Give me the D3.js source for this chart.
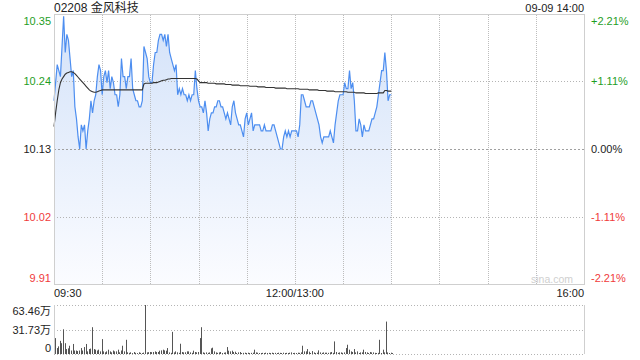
<!DOCTYPE html>
<html>
<head>
<meta charset="utf-8">
<script src="https://cdn.jsdelivr.net/npm/d3@7"></script>
<style>
  body { margin: 0; background: #fff; }
  svg { display: block; font-family: "Liberation Sans", Arial, "Noto Sans CJK SC", sans-serif; }
</style>
</head>
<body>
<svg id="chart" width="640" height="360"></svg>
<script>
// ---- data ----
const title = "02208 金风科技";
const stamp = "09-09 14:00";
const prevClose = 10.13;
const priceLabels = ["10.35", "10.24", "10.13", "10.02", "9.91"];
const pctTicks = [2.21, 1.11, 0, -1.11, -2.21];
const pctLabels = ["+2.21%", "+1.11%", "0.00%", "-1.11%", "-2.21%"];
const timeTicks = [0, 150, 330];            // minutes of trading since 09:30
const timeLabels = ["09:30", "12:00/13:00", "16:00"];
const gridMinutes = [30, 60, 90, 120, 150, 180, 210, 240, 270, 300];
const volTicks = [63.46, 31.73, 0];          // 万
const volLabels = ["63.46万", "31.73万", "0"];

// one value per trading minute, 09:30 .. 14:00
const price = [
  10.21,10.24,10.27,10.26,10.25,10.30,10.35,10.29,10.32,10.31,
  10.28,10.25,10.26,10.20,10.18,10.15,10.13,10.17,10.16,10.17,
  10.13,10.16,10.18,10.21,10.19,10.21,10.22,10.25,10.27,10.26,
  10.22,10.25,10.26,10.24,10.26,10.23,10.25,10.24,10.22,10.22,
  10.20,10.22,10.28,10.25,10.25,10.23,10.25,10.25,10.28,10.23,
  10.22,10.21,10.21,10.20,10.20,10.21,10.30,10.29,10.28,10.25,
  10.24,10.24,10.27,10.29,10.29,10.31,10.32,10.32,10.31,10.32,
  10.30,10.32,10.29,10.28,10.27,10.26,10.27,10.22,10.23,10.22,
  10.23,10.22,10.22,10.21,10.22,10.21,10.22,10.22,10.26,10.23,
  10.21,10.20,10.20,10.19,10.21,10.19,10.16,10.18,10.19,10.19,
  10.20,10.20,10.21,10.21,10.20,10.20,10.19,10.18,10.19,10.18,
  10.17,10.20,10.21,10.19,10.18,10.17,10.17,10.16,10.15,10.18,
  10.19,10.17,10.18,10.19,10.16,10.17,10.17,10.17,10.17,10.16,
  10.16,10.17,10.16,10.16,10.16,10.16,10.17,10.17,10.16,10.15,
  10.14,10.13,10.13,10.15,10.16,10.15,10.16,10.15,10.16,10.16,
  10.16,10.16,10.15,10.17,10.22,10.22,10.21,10.20,10.20,10.20,
  10.21,10.21,10.20,10.19,10.18,10.17,10.15,10.14,10.15,10.15,
  10.15,10.15,10.16,10.15,10.14,10.17,10.19,10.21,10.22,10.22,
  10.22,10.24,10.23,10.23,10.26,10.23,10.24,10.21,10.16,10.16,
  10.18,10.17,10.15,10.17,10.16,10.16,10.16,10.17,10.18,10.18,
  10.19,10.20,10.22,10.24,10.26,10.26,10.29,10.26,10.21,10.22,10.22
];

const avgPrice = [
  10.167,10.190,10.210,10.228,10.240,10.246,10.250,10.254,10.256,10.257,
  10.258,10.258,10.257,10.255,10.252,10.249,10.246,10.243,10.240,10.237,
  10.234,10.231,10.228,10.226,10.225,10.224,10.224,10.225,10.226,10.227,
  10.228,10.228,10.228,10.228,10.228,10.228,10.228,10.228,10.228,10.228,
  10.228,10.228,10.228,10.228,10.228,10.228,10.228,10.228,10.228,10.228,
  10.228,10.228,10.228,10.228,10.228,10.228,10.238,10.239,10.239,10.239,
  10.239,10.239,10.240,10.240,10.240,10.241,10.242,10.243,10.244,10.244,
  10.245,10.246,10.246,10.247,10.247,10.247,10.247,10.247,10.247,10.247,
  10.247,10.247,10.247,10.247,10.247,10.247,10.247,10.247,10.247,10.246,
  10.243,10.240,10.240,10.240,10.240,10.240,10.239,10.239,10.239,10.239,
  10.239,10.238,10.238,10.238,10.238,10.238,10.238,10.237,10.237,10.237,
  10.237,10.236,10.236,10.236,10.236,10.236,10.235,10.235,10.235,10.235,
  10.235,10.235,10.234,10.234,10.234,10.234,10.234,10.233,10.233,10.233,
  10.233,10.233,10.232,10.232,10.232,10.232,10.232,10.232,10.231,10.231,
  10.231,10.231,10.231,10.231,10.231,10.230,10.230,10.230,10.230,10.230,
  10.230,10.230,10.230,10.229,10.229,10.229,10.229,10.229,10.229,10.228,
  10.228,10.228,10.228,10.228,10.228,10.227,10.227,10.227,10.227,10.227,
  10.226,10.226,10.226,10.226,10.226,10.225,10.225,10.225,10.225,10.225,
  10.225,10.225,10.225,10.224,10.224,10.224,10.224,10.224,10.223,10.223,
  10.223,10.223,10.223,10.223,10.222,10.222,10.222,10.222,10.222,10.222,
  10.222,10.222,10.223,10.223,10.223,10.223,10.227,10.227,10.226,10.226,10.226
];

// 万 shares per minute
const volume = [
  20.6,7.7,9.9,17,14,32,14,6.4,7.3,10.7,
  4.5,13,4.5,4.5,3.8,4.5,7.7,4.5,9,13,
  3.4,6.4,7,34.7,6.4,5.6,4.5,5.6,3.4,19.3,
  3.4,2.2,3.4,5.6,3.4,2.2,4.5,3.4,3.4,5.6,
  2.2,4.5,10.7,3.4,18.4,2.2,1.5,2.2,1.2,2.6,
  1.5,1.2,2.2,1.5,1.2,1.8,63.46,2.1,2.4,2.6,
  2.4,2.6,3.4,2.6,2.6,4.3,4.7,5.6,4.7,4.3,
  7.7,2.1,1.5,28.7,2.1,3.4,2.2,1.5,13.3,2.6,
  2.1,2.2,3.4,3.4,2.1,1.5,4.3,2.6,2.1,2.6,
  20.6,34.7,2.1,1.5,2.1,1.5,2.1,7.3,8.2,3.4,
  2.1,1.5,2.1,2.6,1.3,1.7,2.1,9,4.3,3.4,
  4.3,2.6,3,1.3,2.1,2.6,1.3,1.5,1.7,1.3,
  1.7,1.3,1.5,1.7,5.6,2.1,1.7,1.3,1.3,1.5,
  1.3,1.7,1.3,1.5,1.3,1.7,1.3,1.5,1.3,1.7,
  1.5,1.3,1.7,1.3,1.5,1.3,1.7,2.1,1.3,1.5,
  1.3,1.7,1.5,2.1,10.7,3.4,3.4,6.4,3,1.3,
  3.8,2.1,1.3,1.7,4.7,2.1,1.5,2.1,1.7,1.7,
  1.5,2.1,2.6,1.5,16.3,2.6,1.5,2.1,2.1,1.5,
  2.1,7.7,12,5.6,3.4,2.6,6.4,2.1,3.4,1.3,
  2.1,2.1,5.6,2.6,2.1,1.3,2.6,2.1,2.1,1.5,
  1.3,1.5,18.4,1.3,5.6,2.1,42,2.1,1.3,1.7,1.3
];

// ---- layout ----
const plotL = 54, plotR = 584, plotT = 14, plotB = 284;
const volT = 305, volB = 354;
const green = "#1f9e1f", red = "#f03b3b", dark = "#222";
const gridColor = "#b4b4b4", frameColor = "#cfcfcf";

const svg = d3.select("#chart");

const x = d3.scaleLinear().domain([0, 330]).range([plotL, plotR]);
const y = d3.scaleLinear().domain([-2.21, 2.21]).range([plotB, plotT]);
const pct = p => (p / prevClose - 1) * 100;
const yv = d3.scaleLinear().domain([0, 63.46]).range([volB, volT]);

const tickColor = v => v > 0 ? green : (v < 0 ? red : dark);

// gradient under the price line
const grad = svg.append("defs").append("linearGradient")
  .attr("id", "fillGrad").attr("gradientUnits", "userSpaceOnUse")
  .attr("x1", 0).attr("y1", plotT).attr("x2", 0).attr("y2", plotB);
grad.append("stop").attr("offset", "0%").attr("stop-color", "#d3e2f9");
grad.append("stop").attr("offset", "100%").attr("stop-color", "#fbfcff");

// area under the price line
const idx = d3.range(price.length);
svg.append("path").datum(idx)
  .attr("fill", "url(#fillGrad)")
  .attr("d", d3.area().x(i => x(i)).y0(plotB).y1(i => y(pct(price[i]))));

// vertical grid every 30 minutes, drawn over the fill
svg.append("path")
  .attr("class", "vgrid")
  .attr("d", gridMinutes.map(d => "M" + (Math.round(x(d)) + 0.5) + "," + (plotT + 1) + "V" + plotB).join(""))
  .attr("fill", "none").attr("stroke", "#bdbdbd").attr("stroke-width", 1)
  .attr("stroke-dasharray", "1,1");

// horizontal grid
svg.append("g").attr("class", "hgrid").selectAll("line").data(pctTicks.slice(1, 4)).join("line")
  .attr("x1", plotL).attr("x2", plotR)
  .attr("y1", d => Math.round(y(d)) + 0.5).attr("y2", d => Math.round(y(d)) + 0.5)
  .attr("stroke", d => d === 0 ? "#a0a0a0" : gridColor)
  .attr("stroke-dasharray", d => d === 0 ? "2,2" : "1,2");

// price line + average line
svg.append("path").datum(idx)
  .attr("fill", "none").attr("stroke", "#4d8ef0").attr("stroke-width", 1.2)
  .attr("d", d3.line().x(i => x(i)).y(i => y(pct(price[i]))));

svg.append("path").datum(idx)
  .attr("fill", "none").attr("stroke", "#333").attr("stroke-width", 1.1)
  .attr("d", d3.line().x(i => x(i)).y(i => y(pct(avgPrice[i]))));

// price frame
svg.append("rect")
  .attr("x", plotL + 0.5).attr("y", plotT + 0.5)
  .attr("width", plotR - plotL).attr("height", plotB - plotT)
  .attr("fill", "none").attr("stroke", frameColor);

// price axis labels (left, right)
const labelShift = (i, n) => i === 0 ? 7 : (i === n - 1 ? -6 : 0);
svg.append("g").selectAll("text").data(pctTicks).join("text")
  .attr("x", plotL - 3).attr("y", (d, i) => y(d) + labelShift(i, pctTicks.length) + 4)
  .attr("text-anchor", "end").attr("font-size", 11)
  .attr("fill", d => tickColor(d))
  .text((d, i) => priceLabels[i]);

svg.append("g").selectAll("text").data(pctTicks).join("text")
  .attr("x", plotR + 7).attr("y", (d, i) => y(d) + labelShift(i, pctTicks.length) + 4)
  .attr("text-anchor", "start").attr("font-size", 11)
  .attr("fill", d => tickColor(d))
  .text((d, i) => pctLabels[i]);

// time labels
svg.append("g").selectAll("text").data(timeTicks).join("text")
  .attr("x", d => x(d)).attr("y", 297)
  .attr("text-anchor", (d, i) => i === 0 ? "start" : (i === timeTicks.length - 1 ? "end" : "middle"))
  .attr("font-size", 11).attr("fill", dark)
  .text((d, i) => timeLabels[i]);

// title and timestamp
svg.append("text").attr("x", plotL).attr("y", 11.5)
  .attr("font-size", 12).attr("fill", dark).text(title);
svg.append("text").attr("x", plotR).attr("y", 12)
  .attr("text-anchor", "end").attr("font-size", 11).attr("fill", dark).text(stamp);

// watermark
svg.append("text").attr("x", 573).attr("y", 283)
  .attr("text-anchor", "end").attr("font-size", 10.5).attr("fill", "#cfcfcf").text("sina.com");

// ---- volume panel ----
svg.append("g").selectAll("line").data(volTicks).join("line")
  .attr("x1", plotL).attr("x2", plotR)
  .attr("y1", d => Math.round(yv(d)) + 0.5).attr("y2", d => Math.round(yv(d)) + 0.5)
  .attr("stroke", gridColor).attr("stroke-dasharray", "1,2");

svg.append("g").selectAll("line").data([plotL, plotR]).join("line")
  .attr("x1", d => d + 0.5).attr("x2", d => d + 0.5)
  .attr("y1", volT).attr("y2", volB)
  .attr("stroke", frameColor);

svg.append("g").selectAll("rect").data(volume).join("rect")
  .attr("x", (d, i) => Math.round(x(i)) + 1)
  .attr("y", d => yv(d))
  .attr("width", 1)
  .attr("height", d => volB - yv(d))
  .attr("fill", "#555");

const volShift = [6, 0, -6];
svg.append("g").selectAll("text").data(volTicks).join("text")
  .attr("x", plotL - 3).attr("y", (d, i) => yv(d) + volShift[i] + 4)
  .attr("text-anchor", "end").attr("font-size", 11).attr("fill", dark)
  .text((d, i) => volLabels[i]);
</script>
</body>
</html>
